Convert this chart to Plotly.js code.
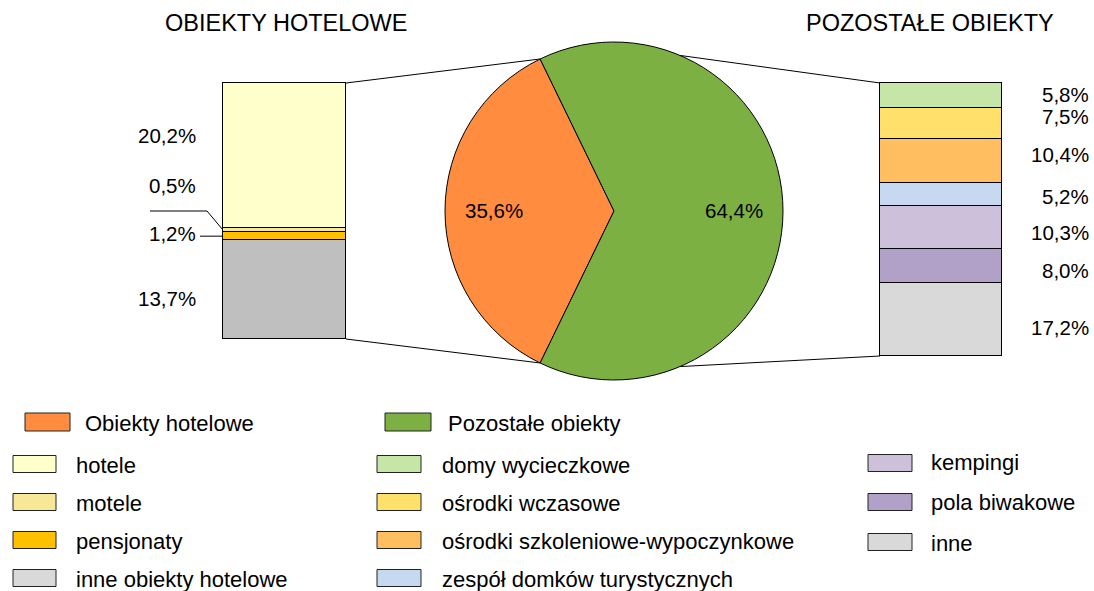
<!DOCTYPE html>
<html>
<head>
<meta charset="utf-8">
<script src="https://cdn.plot.ly/plotly-3.0.1.min.js"></script>
<style>html,body{margin:0;padding:0;background:#fff;}#chart{width:1094px;height:591px;}</style>
</head>
<body>
<div id="chart"></div>
<script>
// ---------- DATA ----------
const pieLabels = ['Obiekty hotelowe', 'Pozostałe obiekty'];
const pieValues = [35.6, 64.4];
const hotelCats = ['hotele', 'motele', 'pensjonaty', 'inne obiekty hotelowe'];
const hotelValues = [20.2, 0.5, 1.2, 13.7];
const otherCats = ['domy wycieczkowe', 'ośrodki wczasowe', 'ośrodki szkoleniowe-wypoczynkowe',
                   'zespół domków turystycznych', 'kempingi', 'pola biwakowe', 'inne'];
const otherValues = [5.8, 7.5, 10.4, 5.2, 10.3, 8.0, 17.2];
const leftTitle = 'OBIEKTY HOTELOWE';
const rightTitle = 'POZOSTAŁE OBIEKTY';

// ---------- STYLE ----------
const W = 1094, H = 591;
const FONT = 'Liberation Sans, Arial, sans-serif';
const pieColors = ['#FF8C3F', '#7DB042'];
const hotelColors = ['#FFFFCC', '#F6E897', '#FFC000', '#BFBFBF'];
const hotelLegendColors = ['#FFFFCC', '#F6E897', '#FFC000', '#D9D9D9'];
const otherColors = ['#C5E6A6', '#FFE06B', '#FFBE5F', '#C6D9F0', '#CCC0DA', '#B1A0C7', '#D9D9D9'];
const hotelLabelShift = [20, 45, 3, -9];
const otherLabelShift = [1, 6.5, 6.5, -2.5, -5.5, -4, -7.5];

const px = x => x / W;
const py = y => 1 - y / H;
const fmt = v => v.toFixed(1).replace('.', ',') + '%';
const sum = a => a.reduce((s, v) => s + v, 0);

// geometry (pixels)
const LB = {x0: 223, x1: 346, y0: 83, y1: 339};
const RB = {x0: 880, x1: 1002, y0: 83, y1: 356};
const PIE = {cx: 614, cy: 211, r: 169};
const PAD = 2; // keep bar outlines inside the clip area

const hotelTotal = sum(hotelValues);
const otherTotal = sum(otherValues);
const pieTotal = sum(pieValues);

const traces = [];
for (let i = hotelCats.length - 1; i >= 0; i--) {
  traces.push({
    type: 'bar', x: [0], y: [hotelValues[i]], name: hotelCats[i], width: 1,
    xaxis: 'x', yaxis: 'y', showlegend: false,
    marker: {color: hotelColors[i], line: {color: '#000', width: 1}},
    hovertemplate: hotelCats[i] + ': ' + fmt(hotelValues[i]) + '<extra></extra>'
  });
}
for (let i = otherCats.length - 1; i >= 0; i--) {
  traces.push({
    type: 'bar', x: [0], y: [otherValues[i]], name: otherCats[i], width: 1,
    xaxis: 'x2', yaxis: 'y2', showlegend: false,
    marker: {color: otherColors[i], line: {color: '#000', width: 1}},
    hovertemplate: otherCats[i] + ': ' + fmt(otherValues[i]) + '<extra></extra>'
  });
}
const halfAngle = pieValues[0] / pieTotal * 180;
const rotation = 270 - halfAngle;
traces.push({
  type: 'pie', labels: pieLabels, values: pieValues, sort: false,
  direction: 'clockwise', rotation: rotation,
  domain: {x: [px(PIE.cx - PIE.r), px(PIE.cx + PIE.r)], y: [py(PIE.cy + PIE.r), py(PIE.cy - PIE.r)]},
  marker: {colors: pieColors, line: {color: '#000', width: 1}},
  textinfo: 'none', text: pieValues.map(fmt),
  showlegend: false, hoverinfo: 'label+text'
});

const shapes = [];
const annotations = [];

// pie labels placed along each slice's mid angle
{
  let start = rotation;
  pieValues.forEach((v, i) => {
    const sweep = v / pieTotal * 360;
    const mid = (90 - (start + sweep / 2)) * Math.PI / 180;
    const lx = PIE.cx + 0.71 * PIE.r * Math.cos(mid);
    const ly = PIE.cy - 0.71 * PIE.r * Math.sin(mid);
    annotations.push({xref: 'paper', yref: 'paper', x: px(lx), y: py(ly - 1), xanchor: 'center', yanchor: 'middle',
      showarrow: false, text: fmt(v), font: {family: FONT, size: 20.5, color: '#000'}});
    start += sweep;
  });
}

// connectors
const aL = (180 - halfAngle) * Math.PI / 180;
const pLtop = [PIE.cx + PIE.r * Math.cos(aL), PIE.cy - PIE.r * Math.sin(aL)];
const pLbot = [PIE.cx + PIE.r * Math.cos(aL), PIE.cy + PIE.r * Math.sin(aL)];
const aR = 67 * Math.PI / 180;
const pRtop = [PIE.cx + PIE.r * Math.cos(aR), PIE.cy - PIE.r * Math.sin(aR)];
const pRbot = [PIE.cx + PIE.r * Math.cos(aR), PIE.cy + PIE.r * Math.sin(aR)];
function line(x0, y0, x1, y1) {
  shapes.push({type: 'line', xref: 'paper', yref: 'paper', x0: px(x0), y0: py(y0), x1: px(x1), y1: py(y1),
               line: {color: '#000', width: 1}, layer: 'below'});
}
line(LB.x1, LB.y0, pLtop[0], pLtop[1]);
line(LB.x1, LB.y1, pLbot[0], pLbot[1]);
line(RB.x0, RB.y0, pRtop[0], pRtop[1]);
line(RB.x0, RB.y1, pRbot[0], pRbot[1]);

// left labels
const hCenters = [];
{
  let acc = 0;
  for (let i = hotelCats.length - 1; i >= 0; i--) { hCenters[i] = acc + hotelValues[i] / 2; acc += hotelValues[i]; }
}
const yPixL = v => LB.y1 - v / hotelTotal * (LB.y1 - LB.y0);
hotelCats.forEach((c, i) => {
  annotations.push({xref: 'paper', yref: 'y', x: px(198), y: hCenters[i], yshift: hotelLabelShift[i],
    xanchor: 'right', yanchor: 'middle', showarrow: false, text: fmt(hotelValues[i]),
    font: {family: FONT, size: 20.5, color: '#000'}});
});
line(150, 211, 207, 211);
line(207, 211, LB.x0, yPixL(hCenters[1]));
line(200, yPixL(hCenters[2]), LB.x0, yPixL(hCenters[2]));

// right labels
const oCenters = [];
{
  let acc = 0;
  for (let i = otherCats.length - 1; i >= 0; i--) { oCenters[i] = acc + otherValues[i] / 2; acc += otherValues[i]; }
}
otherCats.forEach((c, i) => {
  annotations.push({xref: 'paper', yref: 'y2', x: px(1091), y: oCenters[i], yshift: otherLabelShift[i],
    xanchor: 'right', yanchor: 'middle', showarrow: false, text: fmt(otherValues[i]),
    font: {family: FONT, size: 20.5, color: '#000'}});
});

// titles
annotations.push({xref: 'paper', yref: 'paper', x: px(286), y: py(23), xanchor: 'center', yanchor: 'middle',
  showarrow: false, text: leftTitle, font: {family: FONT, size: 23.5, color: '#000'}});
annotations.push({xref: 'paper', yref: 'paper', x: px(930), y: py(23), xanchor: 'center', yanchor: 'middle',
  showarrow: false, text: rightTitle, font: {family: FONT, size: 23.5, color: '#000'}});

// custom legend
function legendItem(sx0, sx1, syc, sh, color, tx, tyc, label) {
  shapes.push({type: 'rect', xref: 'paper', yref: 'paper', x0: px(sx0), x1: px(sx1),
    y0: py(syc + sh / 2), y1: py(syc - sh / 2), fillcolor: color, line: {color: '#222', width: 1}});
  annotations.push({xref: 'paper', yref: 'paper', x: px(tx), y: py(tyc), xanchor: 'left', yanchor: 'middle',
    showarrow: false, text: label, font: {family: FONT, size: 22, color: '#000'}});
}
legendItem(25, 70, 422, 18, pieColors[0], 83, 423, pieLabels[0]);
legendItem(385, 431, 422, 18, pieColors[1], 446, 423, pieLabels[1]);
const rowY = [464, 502, 540, 578];
hotelCats.forEach((c, i) => legendItem(13, 56, rowY[i], 17, hotelLegendColors[i], 74, rowY[i] + 1, c));
otherCats.slice(0, 4).forEach((c, i) => legendItem(377, 421, rowY[i], 17, otherColors[i], 440, rowY[i] + 1, c));
const col3Y = [463, 502, 542];
otherCats.slice(4).forEach((c, i) => legendItem(868, 912, col3Y[i], 17, otherColors[4 + i], 929, col3Y[i] - 1 + i, c));

// axes: domains padded by PAD px so the outer outlines are not clipped
function xAx(b, anchor) {
  const w = b.x1 - b.x0, e = PAD / w;
  return {domain: [px(b.x0 - PAD), px(b.x1 + PAD)], range: [-0.5 - e, 0.5 + e], anchor: anchor,
          visible: false, fixedrange: true};
}
function yAx(b, total, anchor) {
  const h = b.y1 - b.y0, e = PAD / h * total;
  return {domain: [py(b.y1 + PAD), py(b.y0 - PAD)], range: [-e, total + e], anchor: anchor,
          visible: false, fixedrange: true};
}
const layout = {
  width: W, height: H,
  margin: {l: 0, r: 0, t: 0, b: 0},
  paper_bgcolor: '#fff', plot_bgcolor: 'rgba(0,0,0,0)',
  barmode: 'stack', bargap: 0,
  showlegend: false,
  font: {family: FONT, color: '#000'},
  xaxis: xAx(LB, 'y'),
  yaxis: yAx(LB, hotelTotal, 'x'),
  xaxis2: xAx(RB, 'y2'),
  yaxis2: yAx(RB, otherTotal, 'x2'),
  shapes: shapes,
  annotations: annotations
};
Plotly.newPlot('chart', traces, layout, {displayModeBar: false, responsive: false});
</script>
</body>
</html>
